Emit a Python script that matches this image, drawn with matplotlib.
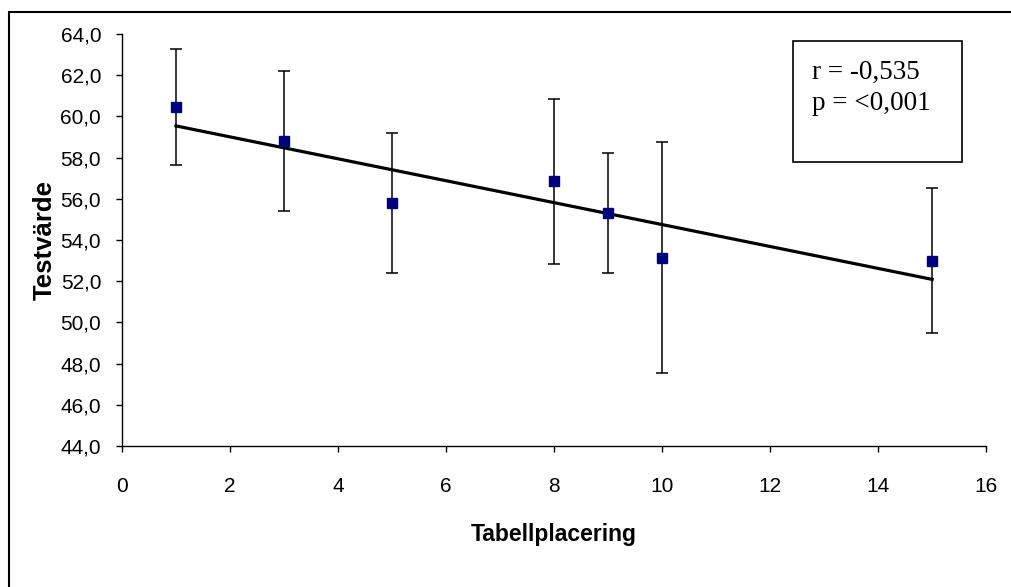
import matplotlib.pyplot as plt
import numpy as np
from matplotlib.patches import Rectangle
from matplotlib.ticker import FuncFormatter

plt.rcParams['font.family'] = ['Liberation Sans', 'DejaVu Sans']

# table placement vs. test value (mean and spread)
placering = [1, 3, 5, 8, 9, 10, 15]
testvarde = [60.45, 58.8, 55.8, 56.85, 55.3, 53.15, 53.0]
spridning = [2.8, 3.4, 3.4, 4.0, 2.9, 5.6, 3.5]
r_text = "r = -0,535"
p_text = "p = <0,001"

fig = plt.figure(figsize=(10.12, 5.87), dpi=100)
ax = fig.add_axes([0.1206, 0.2402, 0.8538, 0.7019])

# error bars + markers
ax.errorbar(placering, testvarde, yerr=spridning, fmt='none', ecolor='black',
            elinewidth=1.1, capsize=4, capthick=1.1, zorder=2)
ax.plot(placering, testvarde, 's', color='#000080', markersize=7.5, zorder=4)

# linear trend from the means
k, m = np.polyfit(placering, testvarde, 1)
xs = np.array([min(placering), max(placering)])
ax.plot(xs, k * xs + m, color='black', linewidth=2.3, zorder=3)

ax.set_xlim(0, 16)
ax.set_ylim(44, 64)
ax.set_xticks(np.arange(0, 17, 2))
ax.set_yticks(np.arange(44, 65, 2))
ax.yaxis.set_major_formatter(FuncFormatter(lambda v, p: f"{v:.1f}".replace('.', ',')))

for s in ['top', 'right']:
    ax.spines[s].set_visible(False)
for s in ['left', 'bottom']:
    ax.spines[s].set_linewidth(1.0)
ax.tick_params(axis='both', direction='out', length=4, width=1.0, labelsize=15)
ax.tick_params(axis='y', pad=11)
ax.tick_params(axis='x', pad=18)

ax.set_xlabel('Tabellplacering', fontsize=16.5, fontweight='bold', labelpad=20)
ax.set_ylabel('Testvärde', fontsize=18.5, fontweight='bold', labelpad=3)

# outer chart border (runs off right/bottom edge)
fig.patches.append(Rectangle((9 / 1012, -0.1), 1.1, 1 - 12 / 587 + 0.1,
                             transform=fig.transFigure, fill=False,
                             edgecolor='black', linewidth=1.5))

# stats box
fig.patches.append(Rectangle((793 / 1012, 1 - 162 / 587), 169 / 1012, 121 / 587,
                             transform=fig.transFigure, fill=False,
                             edgecolor='black', linewidth=1.2))
fig.text(812 / 1012, 1 - 79 / 587, r_text, family='Liberation Serif', fontsize=19.5,
         va='baseline')
fig.text(812 / 1012, 1 - 110 / 587, p_text, family='Liberation Serif', fontsize=19.5,
         va='baseline')

fig.savefig('out.png', dpi=100)
